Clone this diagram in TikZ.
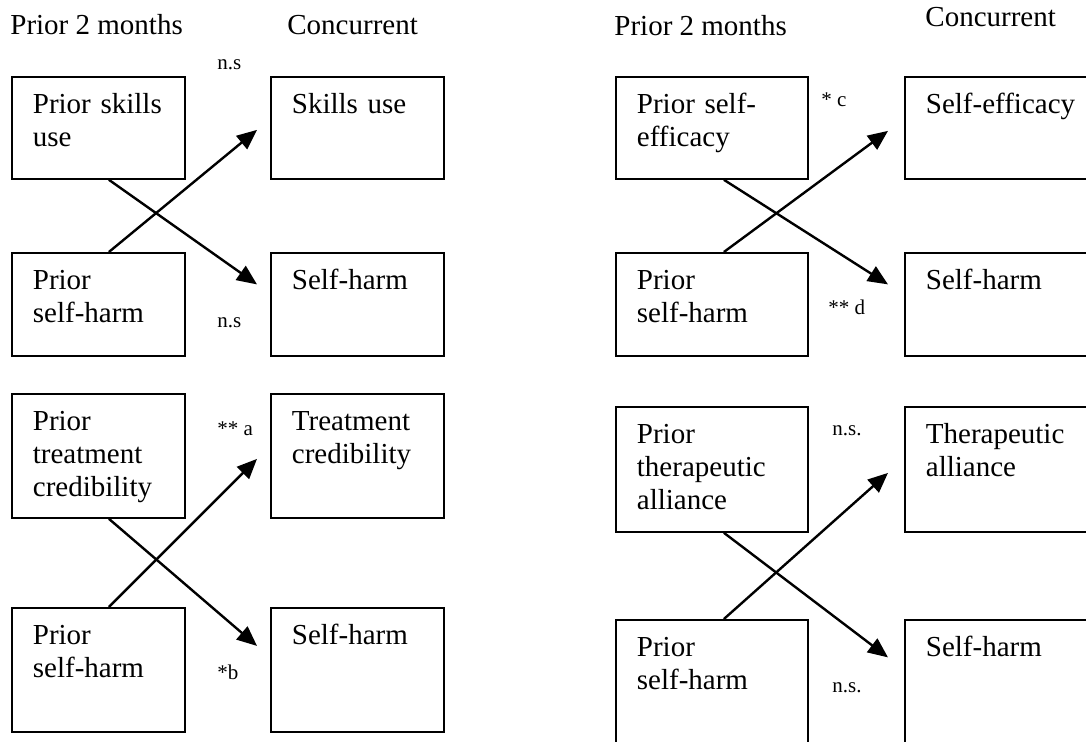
\documentclass[tikz,border=0pt]{standalone}
\usepackage{fontspec}
\setmainfont{Liberation Serif}
\usetikzlibrary{arrows.meta,calc}

\tikzset{
  varbox/.style 2 args = {draw = black, line width = 0.9pt, anchor = north west, align = left,
    inner xsep = 10.5pt, inner ysep = 0pt, text width = #1, text height = 18.5pt, text depth = #2,
    font = \fontsize{14.5}{16.5}\selectfont},
  heading/.style = {anchor = base west, inner sep = 0pt, font = \fontsize{14.5}{16.5}\selectfont},
  sig/.style = {anchor = base west, inner sep = 0pt, font = \fontsize{10.5}{12}\selectfont},
  path/.style = {line width = 1.2pt, -{Triangle[length = 10pt, width = 8.5pt]}}
}

\begin{document}
\begin{tikzpicture}[x = 0.5pt, y = -0.5pt]

	\useasboundingbox (0, 0) rectangle (1086, 742);
	\clip (0, 0) rectangle (1086, 742);

	% column headings
	\node (HL1) at ( 10, 35) [heading] {Prior 2 months};
	\node (HL2) at (287, 35) [heading] {Concurrent};
	\node (HR1) at (614, 36) [heading] {Prior 2 months};
	\node (HR2) at (925, 27) [heading] {Concurrent};

	% skills use
	\node (PA1) at ( 11,  76) [varbox = {65.5pt}{32.5pt}] {Prior skills\\use};
	\node (PA2) at ( 11, 252) [varbox = {65.5pt}{33pt}]   {Prior\\self-harm};
	\node (CA1) at (270,  76) [varbox = {65.5pt}{32.5pt}] {Skills use};
	\node (CA2) at (270, 252) [varbox = {65.5pt}{33pt}]   {Self-harm};

	% treatment credibility
	\node (PB1) at ( 11, 393) [varbox = {65.5pt}{43.5pt}] {Prior\\treatment\\credibility};
	\node (PB2) at ( 11, 607) [varbox = {65.5pt}{43.5pt}] {Prior\\self-harm};
	\node (CB1) at (270, 393) [varbox = {65.5pt}{43.5pt}] {Treatment\\credibility};
	\node (CB2) at (270, 607) [varbox = {65.5pt}{43.5pt}] {Self-harm};

	% self-efficacy
	\node (PC1) at (615,  76) [varbox = {75pt}{32.5pt}] {Prior self-\\efficacy};
	\node (PC2) at (615, 252) [varbox = {75pt}{33pt}]   {Prior\\self-harm};
	\node (CC1) at (904,  76) [varbox = {75pt}{32.5pt}] {Self-efficacy};
	\node (CC2) at (904, 252) [varbox = {75pt}{33pt}]   {Self-harm};

	% therapeutic alliance
	\node (PD1) at (615, 406) [varbox = {75pt}{44pt}] {Prior\\therapeutic\\alliance};
	\node (PD2) at (615, 619) [varbox = {75pt}{44pt}] {Prior\\self-harm};
	\node (CD1) at (904, 406) [varbox = {75pt}{44pt}] {Therapeutic\\alliance};
	\node (CD2) at (904, 619) [varbox = {75pt}{44pt}] {Self-harm};

	% significance marks
	\node (SA1) at (217,  70) [sig] {n.s};
	\node (SA2) at (217, 328) [sig] {n.s};
	\node (SB1) at (217, 436) [sig] {** a};
	\node (SB2) at (217, 679) [sig] {*b};
	\node (SC1) at (821, 107) [sig] {* c};
	\node (SC2) at (828, 315) [sig] {** d};
	\node (SD1) at (832, 436) [sig] {n.s.};
	\node (SD2) at (832, 692) [sig] {n.s.};

	% cross-lagged paths
	\draw [path] ($(PA2.north) + (10.5, 0)$) -- ($(CA1.west) + (-13, 2)$);
	\draw [path] ($(PA1.south) + (10.5, 0)$) -- ($(CA2.west) + (-13, -20)$);
	\draw [path] ($(PB2.north) + (10.5, 0)$) -- ($(CB1.west) + (-13, 3)$);
	\draw [path] ($(PB1.south) + (10.5, 0)$) -- ($(CB2.west) + (-13, -24)$);
	\draw [path] ($(PC2.north) + (12, 0)$) -- ($(CC1.west) + (-16, 3)$);
	\draw [path] ($(PC1.south) + (12, 0)$) -- ($(CC2.west) + (-16, -20)$);
	\draw [path] ($(PD2.north) + (12, 0)$) -- ($(CD1.west) + (-16, 3.5)$);
	\draw [path] ($(PD1.south) + (12, 0)$) -- ($(CD2.west) + (-16, -25)$);

\end{tikzpicture}
\end{document}
